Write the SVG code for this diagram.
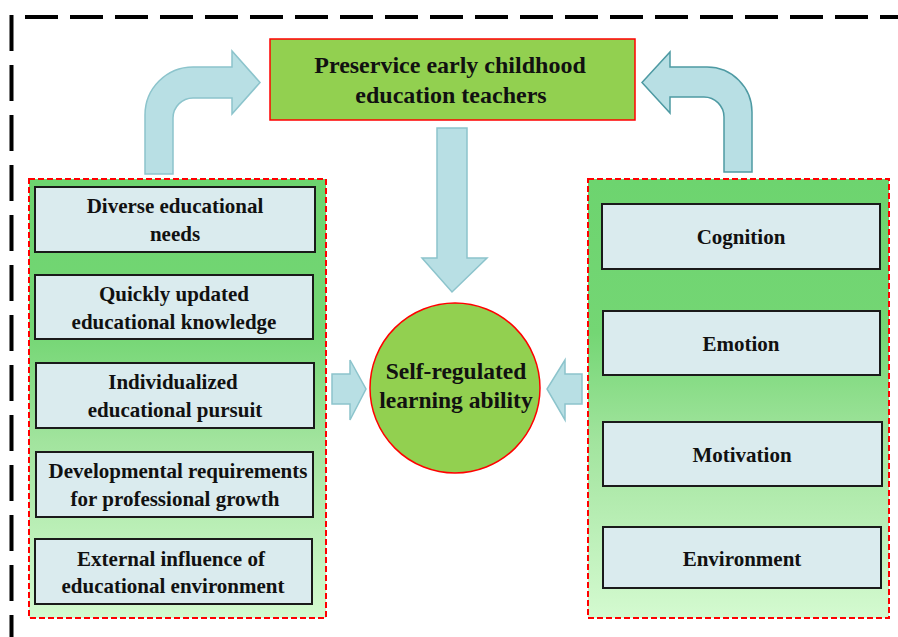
<svg xmlns="http://www.w3.org/2000/svg" width="898" height="637" viewBox="0 0 898 637">
<defs>
<linearGradient id="panelGrad" x1="0" y1="0" x2="0" y2="1">
<stop offset="0" stop-color="#6DD46F"/>
<stop offset="0.35" stop-color="#74D674"/>
<stop offset="0.6" stop-color="#A2E49E"/>
<stop offset="1" stop-color="#D4FAD0"/>
</linearGradient>
<style>
.frame{stroke:#000;stroke-width:4;fill:none;stroke-dasharray:33 12}
.frameL{stroke:#000;stroke-width:4;fill:none;stroke-dasharray:36 14}
.panel{fill:url(#panelGrad);stroke:#FF0000;stroke-width:2;stroke-dasharray:6 3}
.box{fill:#DAEBEE;stroke:#1a1a1a;stroke-width:2}
.main{fill:#92D050;stroke:#FF0000;stroke-width:1.5}
.arrow{fill:#B8DFE4;stroke:#8CC4CC;stroke-width:1.5;stroke-linejoin:miter}
.arrowDark{fill:#B8DFE4;stroke:#4E9AA3;stroke-width:1.5}
text{font-family:"Liberation Serif","Times New Roman",serif;font-weight:bold;fill:#111;text-anchor:middle}
.t21{font-size:21px}
.t23{font-size:23.5px}
.t24{font-size:24px}
</style>
</defs>

<g id="frame">
<line class="frame" x1="25" y1="17" x2="898" y2="17"/>
<line class="frameL" x1="11.5" y1="15" x2="11.5" y2="637"/>
</g>

<g id="connectors">
<path id="arrow-left-bent" class="arrow" d="M145,174 L145,115 A48,48 0 0 1 193,67 L232,67 L232,51 L260,82.5 L232,114 L232,98 L193,98 A20,20 0 0 0 173,118 L173,174 Z"/>
<path id="arrow-right-bent" class="arrowDark" d="M752,172 L752,112 A45,45 0 0 0 707,67 L670,67 L670,52 L642,82.5 L670,113 L670,97 L704,97 A20,20 0 0 1 724,117 L724,172 Z"/>
<path id="arrow-down" class="arrow" d="M437,128 L467,128 L467,258 L487,258 L452,292 L422,258 L437,258 Z"/>
<path id="arrow-left-small" class="arrow" d="M332,374 L350,374 L350,360 L366,389 L350,420 L350,404 L332,404 Z"/>
<path id="arrow-right-small" class="arrow" d="M582,374 L565,374 L565,360 L547,389 L565,420 L565,404 L582,404 Z"/>
</g>

<g id="top-node">
<rect class="main" x="270" y="39" width="365" height="81"/>
<text class="t24" x="450" y="73">Preservice early childhood</text>
<text class="t24" x="451" y="103">education teachers</text>
</g>

<g id="center-node">
<circle class="main" cx="455" cy="388" r="85" stroke-width="2"/>
<text class="t23" x="456" y="379">Self-regulated</text>
<text class="t23" x="456" y="408">learning ability</text>
</g>

<g id="left-panel">
<rect class="panel" x="29" y="179" width="297" height="439"/>
<g id="left-1">
<rect class="box" x="35" y="187" width="280" height="65"/>
<text class="t21" x="175" y="213">Diverse educational</text>
<text class="t21" x="175" y="241">needs</text>
</g>
<g id="left-2">
<rect class="box" x="35" y="275" width="278" height="64"/>
<text class="t21" x="174" y="301">Quickly updated</text>
<text class="t21" x="174" y="329">educational knowledge</text>
</g>
<g id="left-3">
<rect class="box" x="36" y="363" width="278" height="65"/>
<text class="t21" x="173" y="389">Individualized</text>
<text class="t21" x="175" y="417">educational pursuit</text>
</g>
<g id="left-4">
<rect class="box" x="36" y="452" width="277" height="65"/>
<text class="t21" x="178" y="478">Developmental requirements</text>
<text class="t21" x="175" y="506">for professional growth</text>
</g>
<g id="left-5">
<rect class="box" x="35" y="539" width="277" height="65"/>
<text class="t21" x="171" y="566">External influence of</text>
<text class="t21" x="173" y="593">educational environment</text>
</g>
</g>

<g id="right-panel">
<rect class="panel" x="588" y="179" width="301" height="439"/>
<g id="right-1">
<rect class="box" x="602" y="204" width="278" height="65"/>
<text class="t21" x="741" y="244">Cognition</text>
</g>
<g id="right-2">
<rect class="box" x="603" y="311" width="277" height="64"/>
<text class="t21" x="741" y="351">Emotion</text>
</g>
<g id="right-3">
<rect class="box" x="603" y="422" width="279" height="64"/>
<text class="t21" x="742" y="462">Motivation</text>
</g>
<g id="right-4">
<rect class="box" x="603" y="527" width="278" height="61"/>
<text class="t21" x="742" y="566">Environment</text>
</g>
</g>
</svg>
